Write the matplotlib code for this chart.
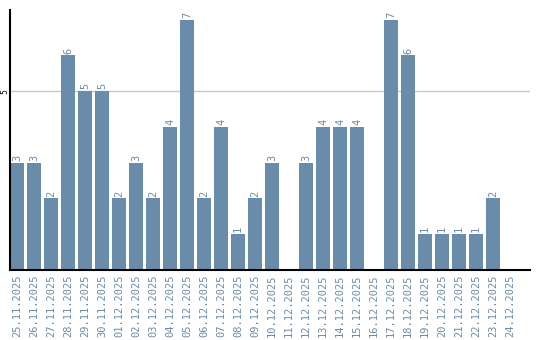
import matplotlib
matplotlib.use("Agg")
from matplotlib import pyplot as plt
import numpy as np

dates = ['25.11.2025', '26.11.2025', '27.11.2025', '28.11.2025', '29.11.2025',
         '30.11.2025', '01.12.2025', '02.12.2025', '03.12.2025', '04.12.2025',
         '05.12.2025', '06.12.2025', '07.12.2025', '08.12.2025', '09.12.2025',
         '10.12.2025', '11.12.2025', '12.12.2025', '13.12.2025', '14.12.2025',
         '15.12.2025', '16.12.2025', '17.12.2025', '18.12.2025', '19.12.2025',
         '20.12.2025', '21.12.2025', '22.12.2025', '23.12.2025', '24.12.2025']
counts = [3, 3, 2, 6, 5, 5, 2, 3, 2, 4, 7, 2, 4, 1, 2, 3, 0, 3, 4, 4,
          4, 0, 7, 6, 1, 1, 1, 1, 2, 0]

bar_color = '#6a8cab'
label_color = '#6a8cab'

fig = plt.figure(figsize=(5.4, 3.4), dpi=100)
ax = fig.add_axes([10 / 540, 70 / 340, 520 / 540, 260 / 340])

x = np.arange(len(dates))
ax.bar(x, counts, width=0.82, color=bar_color, zorder=2)
for i, v in enumerate(counts):
    if v > 0:
        ax.text(x[i], v + 0.05, str(v), rotation=90, ha='center', va='bottom',
                fontsize=7.5, color=label_color, family='DejaVu Sans Mono')

ax.set_xlim(-0.41, 30.18)
ax.set_ylim(0, 7.27)
ax.set_yticks([5])
ax.set_yticklabels(['5'], rotation=90, va='center', fontsize=5.5)
ax.tick_params(axis='y', length=0, pad=0.5)
ax.axhline(5, color='#c8c8c8', lw=1, zorder=1)

ax.set_xticks(x)
ax.set_xticklabels(dates, rotation=90, fontsize=7.5, color=label_color,
                   family='DejaVu Sans Mono')
ax.tick_params(axis='x', length=0, pad=3)

for s in ['top', 'right']:
    ax.spines[s].set_visible(False)
ax.spines['left'].set_linewidth(1.5)
ax.spines['bottom'].set_linewidth(1.5)

fig.savefig('out.png', dpi=100)
